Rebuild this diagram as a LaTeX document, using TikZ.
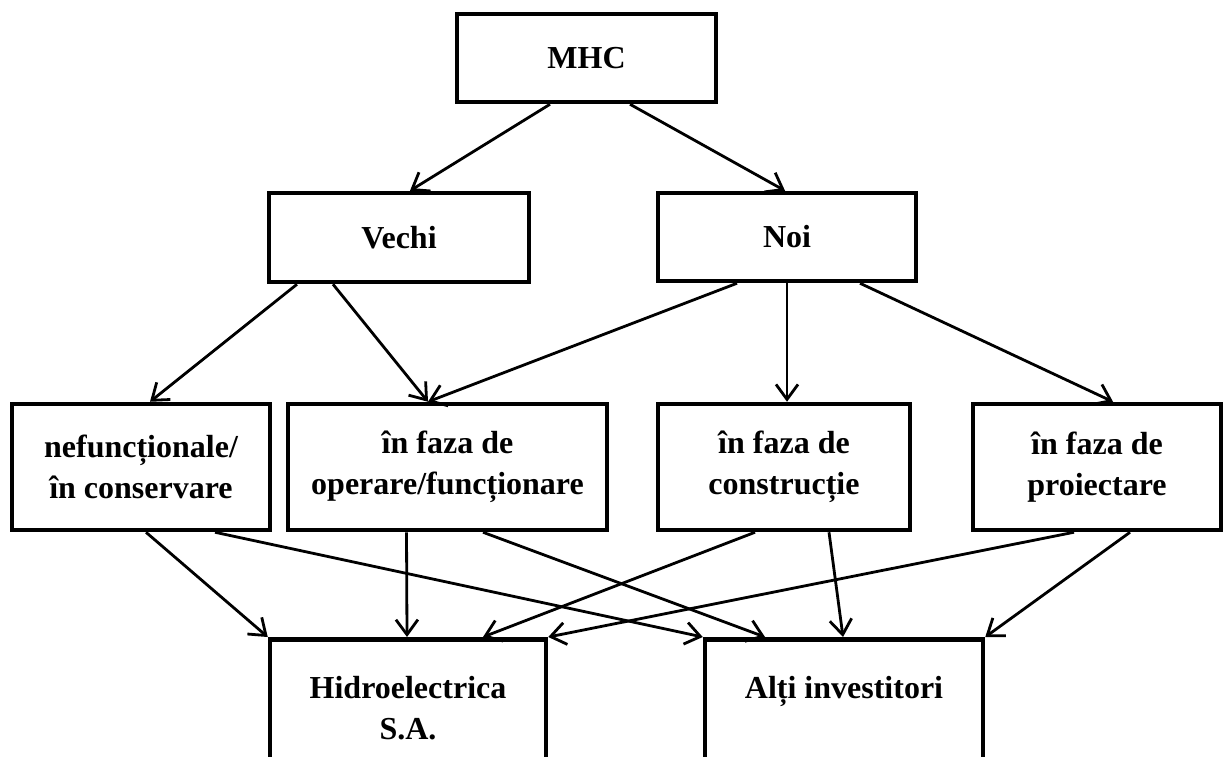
\documentclass[tikz,border=0pt]{standalone}
\usepackage{fontspec}
\setmainfont{Liberation Serif}
\usetikzlibrary{arrows.meta,positioning}

\tikzset{
  box/.style={draw,rectangle,line width=4.5pt,inner sep=0pt,align=center,
    font=\fontsize{32}{41}\selectfont\bfseries},
  arr/.style={line width=2.8pt,-{Straight Barb[length=15pt,width=22pt]}}
}

\begin{document}
\begin{tikzpicture}[x=1pt,y=-1pt]
\useasboundingbox (0,0) rectangle (1225,756);
\clip (0,0) rectangle (1225,756);
% top levels
\node[box,minimum width=259pt,minimum height=88pt] (mhc) at (586.5,58) {MHC};
\node[box,minimum width=260pt,minimum height=89pt] (vechi) at (399,237.5) {Vechi};
\node[box,minimum width=258pt,minimum height=88pt] (noi) at (787,237) {Noi};
% stages
\node[box,minimum width=258pt,minimum height=126pt] (nefunct) at (141,467) {nefuncționale/\\în conservare};
\node[box,minimum width=319pt,minimum height=126pt] (operare) at (447.5,467) {în faza de\\operare/funcționare};
\node[box,minimum width=252pt,minimum height=126pt] (constr) at (784,467) {în faza de\\construcție};
\node[box,minimum width=248pt,minimum height=126pt] (proiect) at (1097,467) {în faza de\\proiectare};
% owners
\node[box,anchor=north,minimum width=276pt,minimum height=137pt] (hidro) at (408,637) {Hidroelectrica\\S.A.};
\node[box,anchor=north,minimum width=278pt,minimum height=137pt] (alti) at (844,637) {Alți investitori\\\phantom{S.A.}};

\draw[arr] ([xshift=-36.5pt]mhc.south) -- ([xshift=11pt]vechi.north);
\draw[arr] ([xshift=43.5pt]mhc.south) -- ([xshift=-2pt]noi.north);
\draw[arr] ([xshift=-102pt]vechi.south) -- ([xshift=9pt]nefunct.north);
\draw[arr] ([xshift=-66pt]vechi.south) -- ([xshift=-19.5pt]operare.north);
\draw[arr] ([xshift=-50pt]noi.south) -- ([xshift=-19.5pt]operare.north);
\draw[arr] (noi.south) -- (noi.south |- constr.north);
\draw[arr] ([xshift=73pt]noi.south) -- ([xshift=16pt]proiect.north);

\draw[arr] ([xshift=5pt]nefunct.south) -- (hidro.north west);
\draw[arr] ([xshift=74pt]nefunct.south) -- (alti.north west);
\draw[arr] ([xshift=-41pt]operare.south) -- ([xshift=-1pt]hidro.north);
\draw[arr] ([xshift=35.5pt]operare.south) -- ([xshift=-79pt]alti.north);
\draw[arr] ([xshift=-29pt]constr.south) -- ([xshift=75pt]hidro.north);
\draw[arr] ([xshift=45pt]constr.south) -- ([xshift=-1pt]alti.north);
\draw[arr] ([xshift=-23pt]proiect.south) -- (hidro.north east);
\draw[arr] ([xshift=33pt]proiect.south) -- (alti.north east);
\end{tikzpicture}
\end{document}
